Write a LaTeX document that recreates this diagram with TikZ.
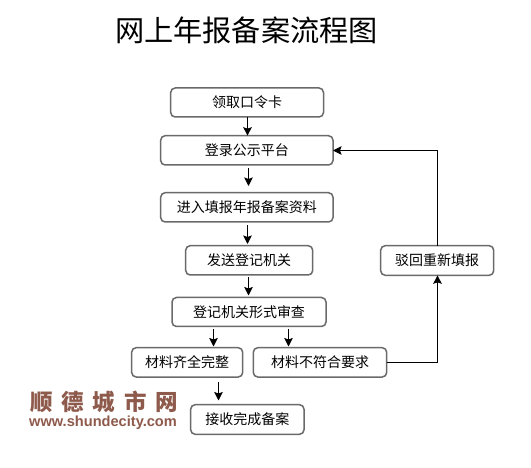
\documentclass[tikz,border=0pt]{standalone}
\usepackage{fontspec}
\usetikzlibrary{arrows.meta}
\setmainfont{Liberation Sans}
\newfontfamily\cjk{Noto Sans CJK SC}
\definecolor{wm}{HTML}{8E5A4C}
\definecolor{edge}{HTML}{6A6A6A}
\tikzset{
  x=1pt,y=-1pt,
  flowbox/.style={draw=edge,line width=1.5pt,rounded corners=4.5pt,fill=white,inner sep=0pt,outer sep=0pt,
    font=\cjk\fontsize{14}{14}\selectfont,anchor=north west},
  arr/.style={line width=1pt,-{Stealth[length=8.5pt,width=8.5pt,inset=1.5pt]},black}
}
\newcommand{\fb}[6]{\node[flowbox,minimum width=#4pt-#2pt,minimum height=#5pt-#3pt] (#1) at (#2,#3) {#6};}
\begin{document}
\begin{tikzpicture}
\useasboundingbox (0,0) rectangle (531,468);
\fill[white] (0,0) rectangle (531,468);
\node[anchor=center,inner sep=0pt,font=\cjk\fontsize{29.2}{29.2}\selectfont] (title) at (246.5,30) {网上年报备案流程图};
\fb{n1}{170.7}{88}{323.5}{117}{领取口令卡}
\fb{n2}{160.7}{135.7}{333}{165}{登录公示平台}
\fb{n3}{160.7}{192.7}{333}{222}{进入填报年报备案资料}
\fb{n4}{185.7}{245.7}{312.7}{275}{发送登记机关}
\fb{n5}{172}{297.5}{326}{326.5}{登记机关形式审查}
\fb{n6}{131.7}{347.7}{242.7}{377}{材料齐全完整}
\fb{n7}{253.3}{347.7}{386.7}{377}{材料不符合要求}
\fb{n8}{190.7}{404.7}{304}{434.3}{接收完成备案}
\fb{n9}{380.7}{245.7}{493.7}{275.3}{驳回重新填报}
\coordinate (a1) at (247.5,117);
\coordinate (a2s) at (248.5,168);
\coordinate (a2e) at (248.5,186);
\coordinate (a3s) at (247.5,225.5);
\coordinate (a3e) at (247.5,244);
\coordinate (a4s) at (248.5,277);
\coordinate (a4e) at (248.5,295.5);
\coordinate (a5s) at (213.5,329);
\coordinate (a5e) at (213.5,346.5);
\coordinate (a6s) at (288.5,329);
\coordinate (a6e) at (288.5,346.5);
\coordinate (a7s) at (218.5,382);
\coordinate (a7e) at (218.5,400.5);
\coordinate (a8) at (437.5,362.5);
\coordinate (a9) at (437.5,150.5);
\draw[arr] (a1) -- (a1 |- n2.north);
\draw[arr] (a2s) -- (a2e);
\draw[arr] (a3s) -- (a3e);
\draw[arr] (a4s) -- (a4e);
\draw[arr] (a5s) -- (a5e);
\draw[arr] (a6s) -- (a6e);
\draw[arr] (a7s) -- (a7e);
\draw[arr] (n7.east |- a8) -- (a8) -- (n9.south -| a8);
\draw[arr] (n9.north -| a9) -- (a9) -- (n2.east |- a9);
\node[anchor=west,inner sep=0pt,text=wm,font=\cjk\bfseries\fontsize{22.5}{22.5}\selectfont] (wm1) at (30,402)
  {顺\hspace{8.8pt}德\hspace{8.8pt}城\hspace{8.8pt}市\hspace{8.8pt}网};
\node[anchor=west,inner sep=0pt,text=wm,font=\bfseries\fontsize{14.6}{14.6}\selectfont] (wm2) at (29,422.5) {www.shundecity.com};
\end{tikzpicture}
\end{document}
